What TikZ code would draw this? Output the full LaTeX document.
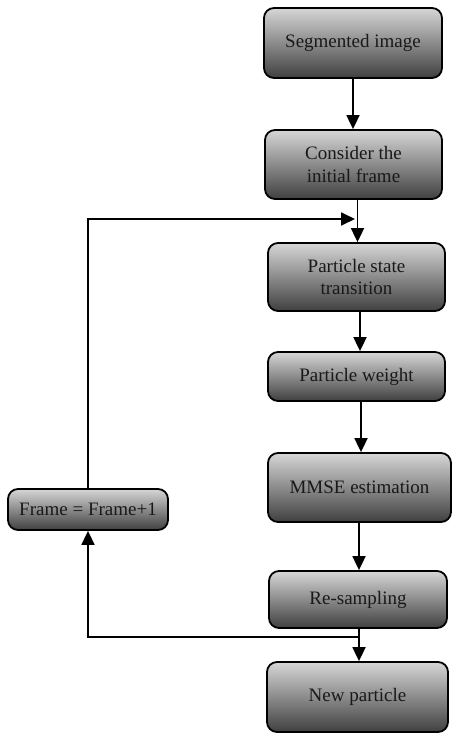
\documentclass[tikz,border=0pt]{standalone}
\usepackage{fontspec}
\setmainfont{Liberation Serif}
\newfontfamily\boxfont{Liberation Serif}
\usetikzlibrary{arrows.meta,calc}
\begin{document}
\begin{tikzpicture}[x=1pt,y=-1pt,
  box/.style={draw=black,line width=1.8pt,rounded corners=10pt,top color=black!16,bottom color=black!75,
    align=center,font=\boxfont\fontsize{19}{22.5}\selectfont,text=black!90,inner sep=0pt,anchor=center},
  arr/.style={line width=1.8pt,-{Triangle[width=13pt,length=14pt]}},
  ln/.style={line width=1.8pt}]
\useasboundingbox (0,0) rectangle (453,734);
\node[box,minimum width=178pt,minimum height=70pt] (b1) at (353,43) {Segmented image};
\node[box,minimum width=177pt,minimum height=69pt] (b2) at (353.5,164.5) {Consider the\\initial frame};
\node[box,minimum width=177pt,minimum height=68pt] (b3) at (356.5,277) {Particle state\\transition};
\node[box,minimum width=177pt,minimum height=49pt] (b4) at (356.5,376.5) {Particle weight};
\node[box,minimum width=183pt,minimum height=69pt] (b5) at (359.5,487.5) {MMSE estimation};
\node[box,minimum width=178pt,minimum height=57pt] (b6) at (358,599.5) {Re-sampling};
\node[box,minimum width=181pt,minimum height=70pt] (b7) at (357.5,697) {New particle};
\node[box,minimum width=160pt,minimum height=41pt] (fr) at (88,509.5) {Frame = Frame+1};
\coordinate (c1) at (353,0);
\coordinate (c2) at (357.5,0);
\coordinate (c3) at (360,0);
\coordinate (c4) at (361,0);
\coordinate (c5) at (359,0);
\coordinate (mt) at (355,219);
\coordinate (lt) at (88,219);
\coordinate (s) at (359,637);
\coordinate (lb) at (88,637);
\draw[arr] (b1.south -| c1) -- (b2.north -| c1);
\draw[arr] (b2.south -| c2) -- (b3.north -| c2);
\draw[arr] (b3.south -| c3) -- (b4.north -| c3);
\draw[arr] (b4.south -| c4) -- (b5.north -| c4);
\draw[arr] (b5.south -| c5) -- (b6.north -| c5);
\draw[arr] (b6.south -| c5) -- (b7.north -| c5);
\draw[arr] (fr.north) -- (lt) -- (mt);
\draw[arr] (s) -- (lb) -- (fr.south);
\end{tikzpicture}
\end{document}
